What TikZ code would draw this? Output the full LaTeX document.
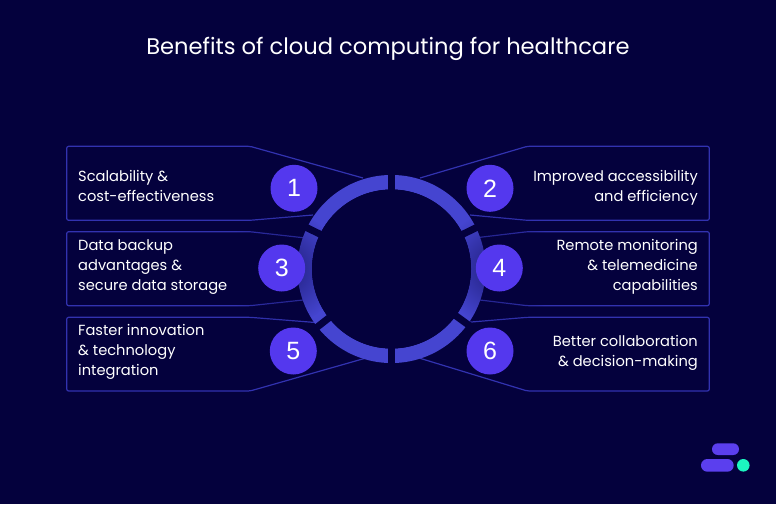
\documentclass[tikz,border=0pt]{standalone}
\usepackage{fontspec}
\usetikzlibrary{fadings}
\setmainfont{Poppins}
\newfontfamily\numfont{Liberation Sans}
\definecolor{bgc}{HTML}{04013D}
\definecolor{ringc}{HTML}{4545D0}
\definecolor{linec}{HTML}{3232B0}
\definecolor{numc}{HTML}{5438EE}
\definecolor{pillc}{HTML}{5B3FEE}
\definecolor{dotc}{HTML}{1CF5C0}
\tikzfading[name=softdisc,inner color=transparent!40,outer color=transparent!100]
\tikzset{
  x=1pt,y=-1pt,
  outline/.style={draw=linec,line width=1.2pt,rounded corners=2pt,line join=round},
  numdisc/.style={circle,fill=numc,minimum size=47pt,inner sep=0pt,text=white,font=\numfont\fontsize{25}{25}\selectfont},
  lefttext/.style={anchor=west,align=left,text=white,inner sep=0pt,font=\fontsize{14.65}{20}\selectfont},
  righttext/.style={anchor=east,align=right,text=white,inner sep=0pt,font=\fontsize{14.65}{20}\selectfont},
  gapline/.style={draw=bgc,line width=7pt},
  softshadow/.style={fill=bgc,path fading=softdisc},
}
\begin{document}
\begin{tikzpicture}
\fill[bgc] (0,0) rectangle (776,504);
\useasboundingbox (0,0) rectangle (776,504);
\node[text=white,inner sep=0pt,font=\fontsize{22.6}{26}\selectfont] (title) at (388,48.5) {Benefits of cloud computing for healthcare};
% callout outlines
\draw[outline] (363,178) -- (250,146.3) -- (66.7,146.3) -- (66.7,220.3) -- (250,220.3) -- (313,215);
\draw[outline] (303,237.7) -- (250,231.7) -- (66.7,231.7) -- (66.7,305.7) -- (250,305.7) -- (303,300);
\draw[outline] (318,322.7) -- (250,317.3) -- (66.7,317.3) -- (66.7,391) -- (250,391) -- (365,358.3);
\draw[outline] (420,178) -- (527.3,146.3) -- (709.3,146.3) -- (709.3,220.3) -- (527.3,220.3) -- (470,215);
\draw[outline] (480,237.3) -- (527.3,231.7) -- (709.3,231.7) -- (709.3,305.7) -- (527.3,305.7) -- (480,300);
\draw[outline] (463,322.7) -- (527.3,317.3) -- (709.3,317.3) -- (709.3,391) -- (527.3,391) -- (420,358.3);
% ring
\coordinate (ctr) at (391.5,269);
\draw[ringc,line width=14.5pt] (ctr) circle[radius=86.8];
\draw[gapline] (391.5,165) -- (391.5,373);
\draw[gapline] (ctr) -- ++(-154:105);
\draw[gapline] (ctr) -- ++(142:105);
\draw[gapline] (ctr) -- ++(-26:105);
\draw[gapline] (ctr) -- ++(36:105);
\fill[bgc] (ctr) circle[radius=79.5];
% soft shadows of the discs on the ring
\fill[softshadow] (281.7,268) circle[radius=58];
\fill[softshadow] (499.3,268) circle[radius=58];
% numbers
\node[numdisc] (n1) at (294,188.3) {1};
\node[numdisc] (n2) at (490,188.3) {2};
\node[numdisc] (n3) at (281.7,268) {3};
\node[numdisc] (n4) at (499.3,268) {4};
\node[numdisc] (n5) at (293.3,351) {5};
\node[numdisc] (n6) at (490,351) {6};
% labels
\node[lefttext] (t1) at (78,186) {Scalability \&\\cost-effectiveness};
\node[lefttext] (t3) at (78,267) {Data backup\\advantages \&\\secure data storage};
\node[lefttext] (t5) at (78,352) {Faster innovation\\\& technology\\integration};
\node[righttext] (t2) at (698,188) {Improved accessibility\\and efficiency};
\node[righttext] (t4) at (698,267) {Remote monitoring\\\& telemedicine\\capabilities};
\node[righttext] (t6) at (698,353) {Better collaboration\\\& decision-making};
% logo
\fill[pillc,rounded corners=5.8pt] (712,443.3) rectangle (739,455);
\fill[pillc,rounded corners=6.3pt] (701,459) rectangle (733.7,471.7);
\fill[dotc] (743.3,465.3) circle[radius=6.3];
\end{tikzpicture}
\end{document}
